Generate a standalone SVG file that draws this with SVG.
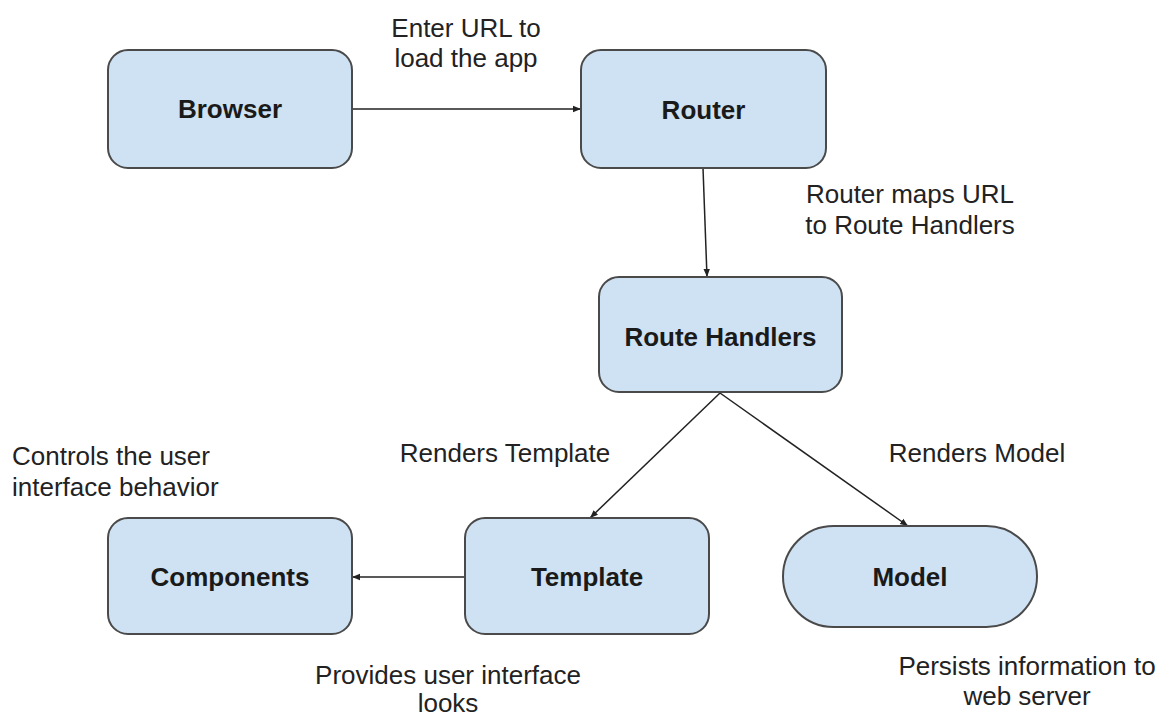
<svg xmlns="http://www.w3.org/2000/svg" width="1172" height="718" viewBox="0 0 1172 718">
  <defs>
    <marker id="arrow" viewBox="0 0 10 10" refX="10" refY="5" markerWidth="8" markerHeight="8" markerUnits="userSpaceOnUse" orient="auto">
      <path d="M0,1 L10,5 L0,9 z" fill="#222"/>
    </marker>
    <style>
      .box { fill: #cfe2f3; stroke: #4a4a4a; stroke-width: 2; }
      .lbl { font-family: "Liberation Sans", Arial, sans-serif; font-size: 26px; font-weight: bold; fill: #1a1a1a; text-anchor: middle; }
      .note { font-family: "Liberation Sans", Arial, sans-serif; font-size: 26px; fill: #222; }
      .c { text-anchor: middle; }
      .edge { stroke: #222; stroke-width: 1.5; fill: none; marker-end: url(#arrow); }
    </style>
  </defs>
  <rect width="1172" height="718" fill="#ffffff"/>

  <g id="connectors">
    <line class="edge" x1="352" y1="109" x2="581" y2="109"/>
    <line class="edge" x1="703" y1="168" x2="707" y2="277"/>
    <line class="edge" x1="720" y1="393" x2="590" y2="518"/>
    <line class="edge" x1="720" y1="393" x2="908" y2="526"/>
    <line class="edge" x1="465" y1="577" x2="352" y2="577"/>
  </g>

  <g id="browser">
    <rect class="box" x="108" y="50" width="244" height="118" rx="20"/>
    <text class="lbl" x="230" y="118">Browser</text>
  </g>
  <g id="router">
    <rect class="box" x="581" y="50" width="245" height="118" rx="20"/>
    <text class="lbl" x="703.5" y="119">Router</text>
  </g>
  <g id="route-handlers">
    <rect class="box" x="599" y="277" width="243" height="115" rx="20"/>
    <text class="lbl" x="720.5" y="346">Route Handlers</text>
  </g>
  <g id="components">
    <rect class="box" x="108" y="518" width="244" height="116" rx="20"/>
    <text class="lbl" x="230" y="586">Components</text>
  </g>
  <g id="template">
    <rect class="box" x="465" y="518" width="244" height="116" rx="20"/>
    <text class="lbl" x="587" y="586">Template</text>
  </g>
  <g id="model">
    <rect class="box" x="783" y="526" width="254" height="101" rx="50.5"/>
    <text class="lbl" x="910" y="586">Model</text>
  </g>

  <g id="labels">
    <text class="note c" x="466" y="37">Enter URL to</text>
    <text class="note c" x="466" y="67">load the app</text>
    <text class="note c" x="910" y="203">Router maps URL</text>
    <text class="note c" x="910" y="234">to Route Handlers</text>
    <text class="note" x="12" y="465">Controls the user</text>
    <text class="note" x="12" y="496">interface behavior</text>
    <text class="note c" x="505" y="462">Renders Template</text>
    <text class="note c" x="977" y="462">Renders Model</text>
    <text class="note c" x="448" y="684">Provides user interface</text>
    <text class="note c" x="448" y="712">looks</text>
    <text class="note c" x="1027" y="675">Persists information to</text>
    <text class="note c" x="1027" y="705">web server</text>
  </g>
</svg>
